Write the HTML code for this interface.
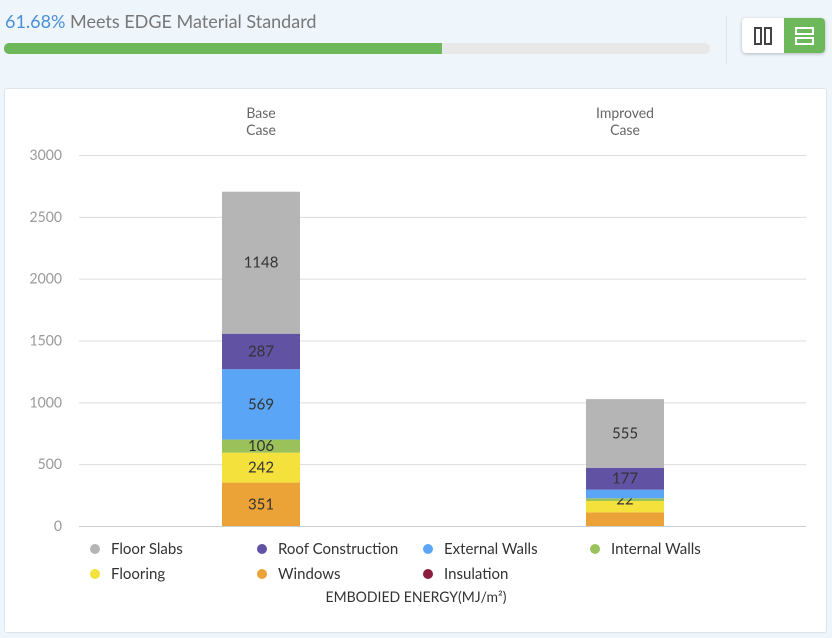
<!DOCTYPE html>
<html><head><meta charset="utf-8"><style>
body{margin:0;width:832px;height:638px;background:#eef5fb;font-family:"Lato","Liberation Sans",sans-serif;position:relative;overflow:hidden}
.hdr{position:absolute;left:5px;top:10px;font-size:18px;color:#777}
.hdr b{color:#4a90d9;font-weight:normal}
.prog{position:absolute;left:4px;top:43px;width:706px;height:11px;background:#e8e8e8;border-radius:5px;overflow:hidden}
.prog div{width:62%;height:100%;background:#6cb85a}
.sep{position:absolute;left:726px;top:16px;width:1px;height:48px;background:#dde4ea}
.tog{position:absolute;left:742px;top:18px;width:83px;height:35px;border-radius:4px;box-shadow:0 1px 3px rgba(0,0,0,.25);overflow:hidden;background:#fff}
.tog .a{position:absolute;left:0;top:0;width:42px;height:35px;background:#fff}
.tog .b{position:absolute;left:42px;top:0;width:41px;height:35px;background:#6cb85a}
.card{position:absolute;left:4px;top:88px;width:821px;height:543px;background:#fff;border:1px solid #dde4ea;border-radius:3px}
</style></head><body>
<div class="hdr"><b>61.68%</b> Meets EDGE Material Standard</div>
<div class="prog"><div></div></div>
<div class="sep"></div>
<div class="tog">
 <div class="a"><svg width="42" height="35"><rect x="13" y="10" width="6" height="16" fill="none" stroke="#444" stroke-width="2"/><rect x="23" y="10" width="6" height="16" fill="none" stroke="#444" stroke-width="2"/></svg></div>
 <div class="b"><svg width="41" height="35"><rect x="12" y="10" width="17" height="6" fill="none" stroke="#fff" stroke-width="2"/><rect x="12" y="20" width="17" height="6" fill="none" stroke="#fff" stroke-width="2"/></svg></div>
</div>
<div class="card"></div>
<svg id="chart" width="832" height="638" style="position:absolute;left:0;top:0"></svg>
<script>
const categories=["Base|Case","Improved|Case"];
const seriesNames=["Floor Slabs","Roof Construction","External Walls","Internal Walls","Flooring","Windows","Insulation"];
const seriesColors=["#b5b5b5","#6152a3","#5aa5f5","#9bc15a","#f5e13b","#eba236","#8c1c3c"];
// stack order bottom->top
const windows=[351,110];
const flooring=[242,92];
const internalWalls=[106,22];
const externalWalls=[569,70];
const roofConstruction=[287,177];
const floorSlabs=[1148,555];
const insulation=[0,0];
const showLabels=[[1,1,1,1,1,1,0],[1,1,0,1,0,0,0]];
const yTicks=[0,500,1000,1500,2000,2500,3000];
const NS="http://www.w3.org/2000/svg",svg=document.getElementById('chart');
const y0=526,yMax=3000,yTop=155,x0=79,x1=806;
const y=v=>y0-(v/yMax)*(y0-yTop);
const cx=i=>[261,625][i];
function mk(t,a,txt){const e=document.createElementNS(NS,t);for(const k in a)e.setAttribute(k,a[k]);if(txt!=null)e.textContent=txt;svg.appendChild(e);return e;}
yTicks.forEach(v=>{
 const l=mk('line',{x1:x0,x2:x1,y1:y(v)+.5,y2:y(v)+.5,stroke:v?'#ddd':'#ccc'});
 
 
 const t=mk('text',{x:62,y:y(v)+5,'text-anchor':'end','font-size':14,fill:'#999'},v);
 
 
});
categories.forEach((c,i)=>{
 c.split('|').forEach((s,j)=>{const t=mk('text',{x:cx(i),y:118+j*17,'text-anchor':'middle','font-size':14,fill:'#666'},s);
 
 });
});
const stack=[[windows,5],[flooring,4],[internalWalls,3],[externalWalls,2],[roofConstruction,1],[floorSlabs,0],[insulation,6]];
categories.forEach((c,i)=>{
 let acc=0;
 stack.forEach(([arr,si])=>{
  const v=arr[i];if(!v)return;
  const r=mk('rect',{x:cx(i)-39,width:78,y:y(acc+v),height:y(acc)-y(acc+v),fill:seriesColors[si]});
  
  
  if(showLabels[i][si]){const t=mk('text',{x:cx(i),y:(y(acc)+y(acc+v))/2+5,'text-anchor':'middle','font-size':15,fill:'#333'},v);
  
  }
  acc+=v;
 });
});
const lx=[95,262,428,595];
seriesNames.forEach((n,i)=>{
 const X=lx[i%4],Y=549+Math.floor(i/4)*25;
 const g=document.createElementNS(NS,'g');svg.appendChild(g);
 
 
 const c=document.createElementNS(NS,'circle');c.setAttribute('cx',X);c.setAttribute('cy',Y);c.setAttribute('r',5);c.setAttribute('fill',seriesColors[i]);g.appendChild(c);
 const t=document.createElementNS(NS,'text');t.setAttribute('x',X+16);t.setAttribute('y',Y+5);t.setAttribute('font-size',15);t.setAttribute('fill','#333');t.textContent=n;g.appendChild(t);
});
const at=mk('text',{x:416,y:602,'text-anchor':'middle','font-size':14,fill:'#333'},'EMBODIED ENERGY(MJ/m²)');


</script>
</body></html>
